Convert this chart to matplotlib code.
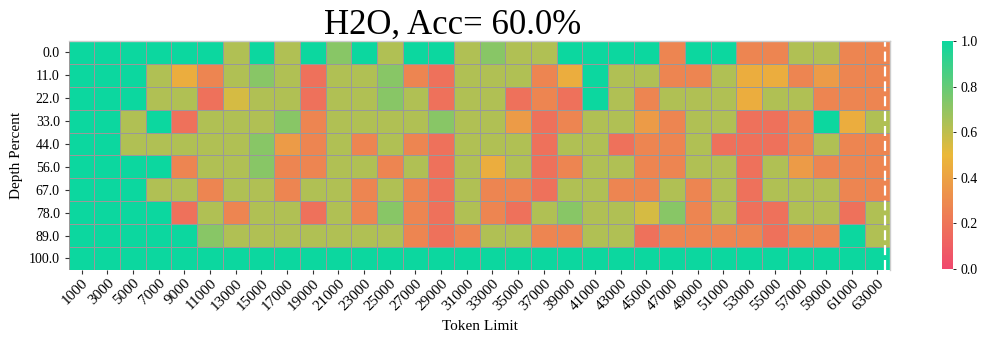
import matplotlib
matplotlib.use("Agg")
import matplotlib.pyplot as plt
import numpy as np
from matplotlib.colors import LinearSegmentedColormap

token_limits = list(range(1000, 64000, 2000))
depth_percents = [0.0, 11.0, 22.0, 33.0, 44.0, 56.0, 67.0, 78.0, 89.0, 100.0]

row_0 = [1, 1, 1, 1, 1, 1, .63, 1, .63, 1, .72, 1, .63, 1, 1, .63, .72, .63, .63, 1, 1, 1, 1, .27, 1, 1, .27, .27, .63, .63, .27, .27]
row_11 = [1, 1, 1, .63, .45, .27, .63, .72, .63, .18, .63, .63, .72, .27, .18, .63, .63, .63, .27, .45, 1, .63, .63, .27, .27, .63, .45, .45, .27, .37, .27, .27]
row_22 = [1, 1, 1, .63, .63, .18, .55, .63, .63, .18, .63, .63, .72, .63, .18, .63, .63, .18, .27, .18, 1, .63, .27, .63, .63, .63, .45, .63, .63, .27, .27, .27]
row_33 = [1, 1, .63, 1, .18, .63, .63, .63, .72, .27, .63, .63, .63, .63, .72, .63, .63, .37, .18, .27, .63, .63, .37, .27, .63, .63, .18, .18, .27, 1, .45, .63]
row_44 = [1, 1, .63, .63, .63, .63, .63, .72, .37, .27, .63, .27, .63, .27, .18, .63, .63, .63, .18, .63, .63, .18, .27, .27, .63, .18, .18, .18, .27, .63, .27, .27]
row_56 = [1, 1, 1, 1, .27, .63, .63, .72, .27, .27, .63, .63, .27, .63, .18, .63, .45, .63, .18, .27, .63, .63, .27, .27, .63, .63, .18, .63, .37, .27, .27, .27]
row_67 = [1, 1, 1, .63, .63, .27, .63, .63, .27, .63, .63, .27, .63, .27, .18, .63, .27, .27, .18, .63, .63, .27, .27, .63, .27, .63, .18, .63, .63, .63, .27, .27]
row_78 = [1, 1, 1, 1, .18, .63, .27, .63, .63, .18, .63, .27, .72, .27, .18, .63, .27, .18, .63, .72, .63, .63, .55, .72, .27, .63, .18, .18, .63, .63, .18, .63]
row_89 = [1, 1, 1, 1, 1, .72, .63, .63, .63, .63, .63, .63, .63, .27, .18, .27, .63, .63, .27, .27, .63, .63, .18, .27, .27, .27, .27, .18, .27, .27, 1, .63]
row_100 = [1] * 32

scores = np.array([row_0, row_11, row_22, row_33, row_44, row_56, row_67,
                   row_78, row_89, row_100], dtype=float)

title_text = "H2O, Acc= 60.0%"
context_line_x = 31.8

plt.rcParams['font.family'] = ['Liberation Serif', 'DejaVu Serif']

cmap = LinearSegmentedColormap.from_list("custom_cmap", ["#F0496E", "#EBB839", "#0CD79F"])

fig = plt.figure(figsize=(9.97, 3.39), dpi=100)
ax = fig.add_axes([0.069, 0.204, 0.824, 0.675])
cax = fig.add_axes([0.945, 0.207, 0.0105, 0.672])

nrows, ncols = scores.shape
mesh = ax.pcolormesh(np.arange(ncols + 1), np.arange(nrows + 1), scores,
                     cmap=cmap, vmin=0, vmax=1, edgecolors='#999999', linewidth=0.5)
ax.set_xlim(0, ncols)
ax.set_ylim(nrows, 0)

ax.axvline(context_line_x, color='white', linestyle=(0, (4.5, 2.2)), linewidth=1.6)

ax.set_xticks(np.arange(ncols) + 0.5)
ax.set_xticklabels([str(t) for t in token_limits], rotation=45, ha='right',
                   rotation_mode='anchor', fontsize=11)
ax.set_yticks(np.arange(nrows) + 0.5)
ax.set_yticklabels([f"{d:.1f}" for d in depth_percents], fontsize=10)
ax.tick_params(axis='both', length=3, width=0.8, color='#333333')
ax.tick_params(axis='x', pad=2)

for side in ['left', 'bottom']:
    ax.spines[side].set_visible(False)
for side in ['top', 'right']:
    ax.spines[side].set_color('#cccccc')
    ax.spines[side].set_linewidth(1.0)

ax.set_xlabel("Token Limit", fontsize=11, labelpad=5)
ax.set_ylabel("Depth Percent", fontsize=11, labelpad=4)
fig.text(0.454, 0.9, title_text, fontsize=25, ha='center', va='baseline')

cb = fig.colorbar(mesh, cax=cax)
cb.outline.set_visible(False)
cb.set_ticks([0.0, 0.2, 0.4, 0.6, 0.8, 1.0])
cb.ax.tick_params(labelsize=10, length=2, width=0.6)

fig.savefig("out.png", dpi=100)
